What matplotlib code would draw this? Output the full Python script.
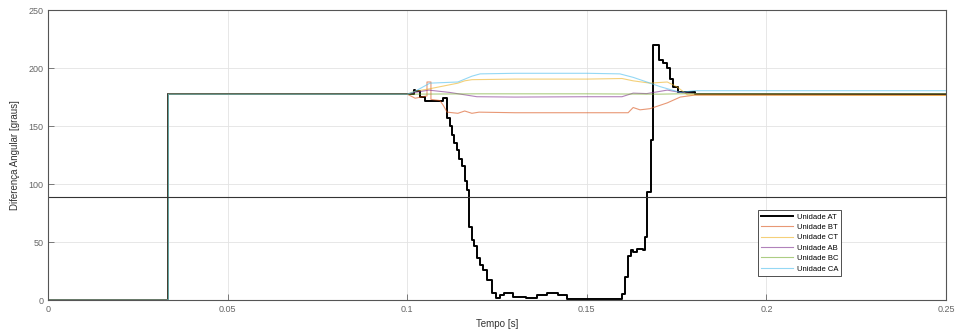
import numpy as np
import matplotlib
matplotlib.use("Agg")
import matplotlib.pyplot as plt

plt.rcParams['font.family'] = ['Liberation Sans', 'DejaVu Sans']

# degrau inicial: tempo (s) e valores (graus)
t_degrau = 0.0335
v_ini = [0.0, 177.5]

# Unidade AT (curva em degraus)
t_at = [0.1, 0.1018, 0.1022, 0.1035, 0.105, 0.1091, 0.110, 0.1111, 0.1118, 0.1125,
        0.1131, 0.1138, 0.1145, 0.1153, 0.1160, 0.1166, 0.1173, 0.118, 0.1187,
        0.1194, 0.1203, 0.1211, 0.1222, 0.1235, 0.1248, 0.1258, 0.127, 0.1295,
        0.133, 0.136, 0.1389, 0.142, 0.1445, 0.150, 0.1592, 0.1598, 0.1606,
        0.1615, 0.1622, 0.1629, 0.1640, 0.1656, 0.1662, 0.1667, 0.1679, 0.1684,
        0.1700, 0.1712, 0.1724, 0.1732, 0.174, 0.1754, 0.180, 0.25]
v_at = [177.5, 181, 180, 175, 172, 172, 174, 157, 150, 142,
        135, 129, 122, 116, 103, 95, 63, 52, 47,
        36, 30, 26, 17, 6, 2, 4, 6, 3,
        2, 4, 6, 4, 1, 0.8, 0.5, 5, 20,
        38, 43, 41, 44, 43, 54, 93, 138, 220,
        207, 204, 200, 191, 184, 179, 178, 178]

# demais unidades (curvas suaves)
t_bt = [0.1, 0.1022, 0.1055, 0.1055, 0.1066, 0.1066, 0.1091, 0.110, 0.1111, 0.1141,
        0.116, 0.118, 0.120, 0.13, 0.15, 0.1615, 0.1629, 0.1648, 0.1676, 0.1724,
        0.176, 0.180, 0.25]
v_bt = [177.5, 174, 176, 188, 188, 173, 172, 168, 162, 161,
        163, 161, 162, 161.5, 161.5, 161.5, 166, 164, 165, 170,
        175, 176.7, 176.5]

t_ct = [0.1, 0.1022, 0.106, 0.1141, 0.116, 0.118, 0.13, 0.15, 0.1598, 0.1629,
        0.1676, 0.1724, 0.175, 0.178, 0.25]
v_ct = [177.5, 180, 182, 187, 189, 190, 190.5, 190.5, 191, 189,
        187, 188, 184, 177, 176.5]

t_ab = [0.1, 0.1022, 0.106, 0.1118, 0.1194, 0.13, 0.15, 0.1598, 0.1629, 0.1667,
        0.1724, 0.1760, 0.180, 0.25]
v_ab = [177.5, 179, 181, 179, 175.3, 175, 175.3, 175.3, 178.4, 178,
        181, 179, 178, 178]

t_bc = [0.1, 0.12, 0.15, 0.17, 0.18, 0.25]
v_bc = [177.5, 177.8, 177.8, 177.5, 178, 178]

t_ca = [0.1, 0.1022, 0.1063, 0.1141, 0.118, 0.1203, 0.13, 0.15, 0.1592, 0.1629,
        0.1667, 0.1704, 0.1760, 0.180, 0.25]
v_ca = [177.5, 180, 187, 188, 193, 195, 195.5, 195.5, 195, 192,
        188, 184, 179, 180.5, 180.5]

linha_ref = 88.5

nomes = ['Unidade AT', 'Unidade BT', 'Unidade CT', 'Unidade AB', 'Unidade BC', 'Unidade CA']
cores = ['black', '#d95319', '#edb120', '#7e2f8e', '#77ac30', '#4dbeee']
series = [(t_at, v_at), (t_bt, v_bt), (t_ct, v_ct), (t_ab, v_ab), (t_bc, v_bc), (t_ca, v_ca)]

fig = plt.figure(figsize=(9.55, 3.36), dpi=100)
ax = fig.add_axes([0.0503, 0.107, 0.9403, 0.863])

for nome, cor, (t, v) in zip(nomes, cores, series):
    tt = [0.0, t_degrau, t_degrau] + list(t)
    vv = [v_ini[0], v_ini[0], v_ini[1]] + list(v)
    if nome == 'Unidade AT':
        ax.step([0.0, t_degrau] + list(t), v_ini + list(v), where='post',
                color=cor, lw=1.4, label=nome)
    else:
        ax.plot(tt, vv, color=cor, lw=0.8, alpha=0.6, label=nome)

ax.axhline(linha_ref, color='#333333', lw=0.8)

ax.set_xlim(0, 0.25)
ax.set_ylim(0, 250)
ax.set_xticks([0, 0.05, 0.1, 0.15, 0.2, 0.25])
ax.set_xticklabels(['0', '0.05', '0.1', '0.15', '0.2', '0.25'])
ax.set_yticks([0, 50, 100, 150, 200, 250])
ax.grid(True, color='#e3e3e3', lw=0.6)
ax.set_axisbelow(True)
ax.tick_params(direction='in', length=4, labelsize=6.5, colors='#666666', width=0.6)
for s in ax.spines.values():
    s.set_color('#555555')
    s.set_linewidth(0.8)

ax.set_xlabel('Tempo [s]', fontsize=7, color='#333333', labelpad=4)
ax.set_ylabel('Diferença Angular [graus]', fontsize=7, color='#333333', labelpad=6)

leg = ax.legend(loc='upper left', bbox_to_anchor=(0.791, 0.31), fontsize=5.5,
                frameon=True, fancybox=False, handlelength=4.2, borderpad=0.4,
                labelspacing=0.4, handletextpad=0.4, borderaxespad=0, framealpha=1)
leg.get_frame().set_edgecolor('#333333')
leg.get_frame().set_linewidth(0.6)

fig.savefig('out.png', dpi=100)
